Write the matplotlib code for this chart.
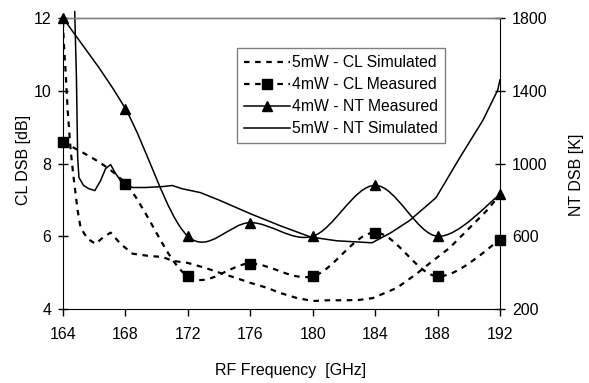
import numpy as np
import matplotlib
matplotlib.use("Agg")
import matplotlib.pyplot as plt
from matplotlib.path import Path
from matplotlib.patches import PathPatch
from matplotlib.lines import Line2D

plt.rcParams['font.family'] = ['Liberation Sans', 'DejaVu Sans']

# measured points (every 4 GHz)
freq_meas = [164, 168, 172, 176, 180, 184, 188, 192]
cl_meas_db = [8.6, 7.45, 4.9, 5.25, 4.9, 6.1, 4.9, 5.9]
nt_meas_k = [1800, 1300, 600, 675, 600, 880, 600, 830]

# simulated curves
cl_sim_f = [164.0, 164.04, 164.17, 164.3, 164.49, 164.68, 164.94, 165.13, 165.58,
            166.09, 166.54, 167.05, 167.69, 168.46, 169.48, 170.37, 171.07, 171.97,
            173.12, 174.08, 175.04, 176.0, 177.09, 177.92, 179.0, 180.02, 180.98,
            182.19, 183.0, 183.85, 185.39, 186.66, 187.68, 188.77, 190.05, 191.14,
            191.84, 192.0]
cl_sim_db = [11.9, 11.4, 10.5, 9.46, 8.36, 7.61, 6.7, 6.23, 5.93,
             5.79, 5.96, 6.1, 5.79, 5.52, 5.46, 5.43, 5.32, 5.27,
             5.13, 4.99, 4.86, 4.72, 4.58, 4.44, 4.3, 4.22, 4.24,
             4.24, 4.25, 4.3, 4.58, 4.97, 5.32, 5.68, 6.23, 6.7,
             7.06, 7.1]

nt_sim_f = [164.75, 164.86, 164.94, 165.02, 165.32, 165.64, 166.04, 166.41, 166.73,
            167.05, 167.37, 167.81, 168.45, 169.28, 170.37, 171.0, 171.6, 172.8,
            174.08, 176.0, 177.91, 179.83, 180.65, 181.55, 183.8, 185.0, 186.2,
            187.9, 189.43, 190.9, 191.85, 192.0]
nt_sim_k = [1835, 1474, 1033, 923, 879, 862, 851, 906, 972,
            994, 945, 890, 868, 868, 873, 879, 862, 840,
            796, 724, 658, 597, 586, 575, 564, 619, 686,
            812, 1033, 1237, 1403, 1460]


def smooth_path(x, y):
    # smoothed line like the spreadsheet one: cubic bezier through the points
    pts = np.column_stack([x, y]).astype(float)
    n = len(pts)
    verts = [pts[0]]
    codes = [Path.MOVETO]
    for i in range(n - 1):
        p0 = pts[max(i - 1, 0)]
        p1 = pts[i]
        p2 = pts[i + 1]
        p3 = pts[min(i + 2, n - 1)]
        verts += [p1 + (p2 - p0) / 6, p2 - (p3 - p1) / 6, p2]
        codes += [Path.CURVE4] * 3
    return Path(verts, codes)


W, H = 589, 383
fig = plt.figure(figsize=(W / 100, H / 100), dpi=100)
ax = fig.add_axes([63 / W, 1 - 309 / H, 437 / W, 291 / H])
ax2 = ax.twinx()

dash = (0, (2.5, 2.5))
lw_d = 1.6
lw_s = 1.1

# left axis: conversion loss
ax.plot(cl_sim_f, cl_sim_db, color='black', lw=lw_d, ls=dash)
ax.add_patch(PathPatch(smooth_path(freq_meas, cl_meas_db), fill=False,
                       edgecolor='black', lw=lw_d, ls=dash))
ax.plot(freq_meas, cl_meas_db, ls='none', marker='s', ms=6.5, color='black',
        clip_on=False, zorder=4)

# right axis: noise temperature
ax2.plot(nt_sim_f, nt_sim_k, color='black', lw=lw_s, clip_on=False)
ax2.add_patch(PathPatch(smooth_path(freq_meas, nt_meas_k), fill=False,
                        edgecolor='black', lw=lw_s))
ax2.plot(freq_meas, nt_meas_k, ls='none', marker='^', ms=7.5, color='black',
         clip_on=False, zorder=4)

ax.set_xlim(164, 192)
ax.set_ylim(4, 12)
ax2.set_ylim(200, 1800)
ax.set_xticks(range(164, 193, 4))
ax.set_yticks(range(4, 13, 2))
ax2.set_yticks(range(200, 1801, 400))

fs = 11.5
ax.tick_params(axis='x', direction='out', length=5, width=1, labelsize=fs, pad=8)
ax.tick_params(axis='y', direction='inout', length=7, width=1, labelsize=fs, pad=5)
ax2.tick_params(axis='y', direction='inout', length=7, width=1, labelsize=fs, pad=5)

for a in (ax, ax2):
    a.spines['top'].set_color('#808080')
    a.spines['top'].set_linewidth(1.0)
ax.spines['right'].set_visible(False)
ax2.spines['left'].set_visible(False)
ax2.spines['bottom'].set_visible(False)

fig.text(291 / W, 1 - 371 / H, 'RF Frequency  [GHz]', ha='center', va='center', fontsize=fs)
fig.text(24 / W, 1 - 160 / H, 'CL DSB [dB]', ha='center', va='center', rotation=90, fontsize=fs)
fig.text(577 / W, 1 - 175 / H, 'NT DSB [K]', ha='center', va='center', rotation=90, fontsize=fs)

handles = [
    Line2D([], [], color='black', lw=lw_d, ls=dash),
    Line2D([], [], color='black', lw=lw_d, ls=dash, marker='s', ms=6.5),
    Line2D([], [], color='black', lw=lw_s, marker='^', ms=7.5),
    Line2D([], [], color='black', lw=lw_s),
]
labels = ['5mW - CL Simulated', '4mW - CL Measured', '4mW - NT Measured', '5mW - NT Simulated']
leg = ax2.legend(handles, labels, loc='upper left', bbox_to_anchor=(0.398, 0.897),
                 fontsize=11.3, frameon=True, fancybox=False, edgecolor='#808080',
                 framealpha=1, borderpad=0.45, labelspacing=0.45, handlelength=2.9,
                 handletextpad=0.15, borderaxespad=0)
leg.get_frame().set_linewidth(1.0)

fig.savefig('out.png', dpi=100)
